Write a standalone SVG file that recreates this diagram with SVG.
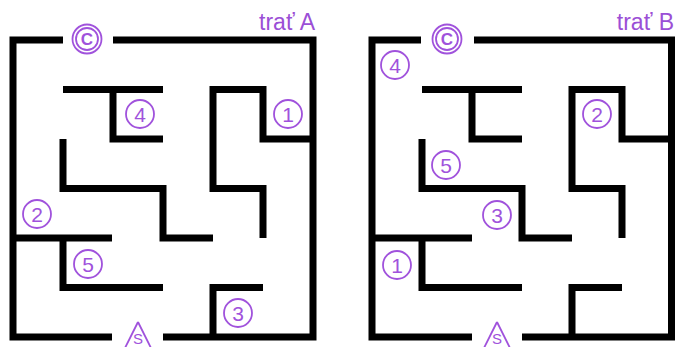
<svg xmlns="http://www.w3.org/2000/svg" width="675" height="347" viewBox="0 0 675 347">
<style>
.wall{fill:none;stroke:#000;stroke-width:7;stroke-linejoin:miter;stroke-linecap:butt}
.ring{fill:none;stroke:#a052dc;stroke-width:1.8}
.num{font-family:"Liberation Sans",Arial,sans-serif;font-size:21px;fill:#a052dc;text-anchor:middle}
.sym{font-family:"Liberation Sans",Arial,sans-serif;font-size:15px;fill:#a052dc;text-anchor:middle}
.cee{font-family:"Liberation Sans",Arial,sans-serif;font-size:17px;font-weight:bold;fill:#a052dc;text-anchor:middle}
.title{font-family:"Liberation Sans",Arial,sans-serif;font-size:23px;fill:#9b4fd6;text-anchor:end}
</style>
<rect width="675" height="347" fill="#fff"/>
<g id="maze-A">
  <g id="walls-A">
    <path class="wall" d="M63,40 H13 V337 H112"/>
    <path class="wall" d="M113,40 H313 V337 H163"/>
    <path class="wall" d="M63,89.5 H163 M113,89.5 V139 H163"/>
    <path class="wall" d="M313,139 H263 V89.5 H213 V188.5 H263 V238"/>
    <path class="wall" d="M63,139 V188.5 H163 V238 H213"/>
    <path class="wall" d="M13,238 H112 M63,238 V287.5 H163"/>
    <path class="wall" d="M263,287.5 H213 V337"/>
  </g>
  <text id="title-A" class="title" x="315" y="30">trať A</text>
  <g id="A-C"><circle class="ring" cx="87" cy="39" r="14.5"/><circle class="ring" cx="87" cy="39" r="11"/><text class="cee" x="87" y="45">C</text></g>
  <g id="A-S"><path class="ring" d="M138,322 L124,350 M138,322 L152,350"/><text class="sym" x="138" y="344">S</text></g>
  <g id="A-1"><circle class="ring" cx="288" cy="114" r="14"/><text class="num" x="288" y="121.5">1</text></g>
  <g id="A-2"><circle class="ring" cx="37" cy="214" r="14"/><text class="num" x="37" y="221.5">2</text></g>
  <g id="A-3"><circle class="ring" cx="238" cy="313" r="14"/><text class="num" x="238" y="320.5">3</text></g>
  <g id="A-4"><circle class="ring" cx="140" cy="114" r="14"/><text class="num" x="140" y="121.5">4</text></g>
  <g id="A-5"><circle class="ring" cx="88" cy="264" r="14"/><text class="num" x="88" y="271.5">5</text></g>
</g>
<g id="maze-B">
  <g id="walls-B">
    <path class="wall" d="M421,40 H372 V337 H472"/>
    <path class="wall" d="M474,40 H671.5 V337 H522"/>
    <path class="wall" d="M422,89.5 H522 M472,89.5 V139 H522"/>
    <path class="wall" d="M671.5,139 H622 V89.5 H572 V188.5 H622 V238"/>
    <path class="wall" d="M422,139 V188.5 H522 V238 H572"/>
    <path class="wall" d="M372,238 H472 M422,238 V287.5 H522"/>
    <path class="wall" d="M622,287.5 H572 V337"/>
  </g>
  <text id="title-B" class="title" x="674" y="30">trať B</text>
  <g id="B-C"><circle class="ring" cx="447" cy="39" r="14.5"/><circle class="ring" cx="447" cy="39" r="11"/><text class="cee" x="447" y="45">C</text></g>
  <g id="B-S"><path class="ring" d="M497,322 L483,350 M497,322 L511,350"/><text class="sym" x="497" y="344">S</text></g>
  <g id="B-1"><circle class="ring" cx="397" cy="265" r="14"/><text class="num" x="397" y="272.5">1</text></g>
  <g id="B-2"><circle class="ring" cx="597" cy="114" r="14"/><text class="num" x="597" y="121.5">2</text></g>
  <g id="B-3"><circle class="ring" cx="497" cy="215" r="14"/><text class="num" x="497" y="222.5">3</text></g>
  <g id="B-4"><circle class="ring" cx="395" cy="65" r="14"/><text class="num" x="395" y="72.5">4</text></g>
  <g id="B-5"><circle class="ring" cx="446" cy="165" r="14"/><text class="num" x="446" y="172.5">5</text></g>
</g>
</svg>
